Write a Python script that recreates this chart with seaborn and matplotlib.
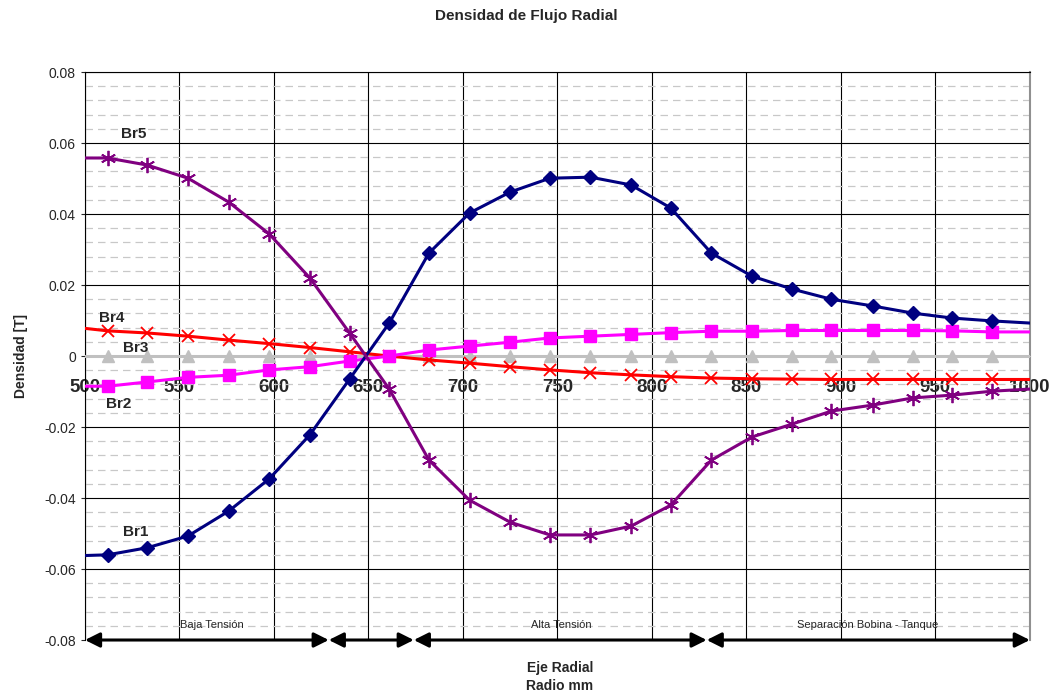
import seaborn as sns
import matplotlib.pyplot as plt
import numpy as np
import pandas as pd

# Radius positions (mm); first and last are the line ends (no marker)
radio = [500, 512, 533, 554.5, 576, 597.5, 619, 640, 661, 682, 703.5, 725, 746,
         767.5, 789, 810, 831.5, 853, 874, 895, 917, 938, 959, 980, 1000]

br1 = [-0.0562, -0.056, -0.054, -0.0507, -0.0437, -0.0346, -0.0222, -0.0065, 0.0093,
       0.029, 0.0403, 0.0462, 0.0501, 0.0504, 0.0482, 0.0417, 0.029, 0.0225, 0.0189,
       0.016, 0.0141, 0.0121, 0.0107, 0.0099, 0.0093]
br2 = [-0.0085, -0.0085, -0.0073, -0.006, -0.0054, -0.0039, -0.003, -0.0014, 0.0,
       0.0017, 0.0028, 0.0039, 0.0051, 0.0056, 0.0061, 0.0066, 0.007, 0.007, 0.0072,
       0.0072, 0.0072, 0.0072, 0.0071, 0.0068, 0.0068]
br3 = [0.0] * 25
br4 = [0.0078, 0.0071, 0.0065, 0.0056, 0.0045, 0.0035, 0.0024, 0.0012, 0.0, -0.0011,
       -0.002, -0.003, -0.0039, -0.0047, -0.0053, -0.0058, -0.0062, -0.0064, -0.0065,
       -0.0066, -0.0066, -0.0066, -0.0066, -0.0066, -0.0066]
br5 = [0.0558, 0.0558, 0.0538, 0.0501, 0.0434, 0.0344, 0.022, 0.0065, -0.0093, -0.0293,
       -0.0406, -0.0468, -0.0504, -0.0504, -0.0479, -0.042, -0.0293, -0.0228, -0.0192,
       -0.0155, -0.0138, -0.0118, -0.011, -0.0099, -0.0093]

# zones along the radial axis
zonas_limites = [500, 629, 674, 829, 1000]
zonas_nombres = ['Baja Tensión', 'Alta Tensión', 'Separación Bobina - Tanque']
zonas_centros = [567, 752, 914]

x_ticks = [500, 550, 600, 650, 700, 750, 800, 850, 900, 950, 1000]
y_ticks = [-0.08, -0.06, -0.04, -0.02, 0, 0.02, 0.04, 0.06, 0.08]
y_labels = ['-0.08', '-0.06', '-0.04', '-0.02', '0', '0.02', '0.04', '0.06', '0.08']

sns.set_style('white')
plt.rcParams['font.family'] = ['Liberation Sans', 'DejaVu Sans']

fig, ax = plt.subplots(figsize=(10.53, 7.0), dpi=100)
fig.subplots_adjust(left=0.0807, right=0.978, top=0.897, bottom=0.0857)

series = [
    ('Br3', br3, '#c0c0c0', '^', 8, 1),
    ('Br4', br4, '#ff0000', 'x', 9, 1.3),
    ('Br2', br2, '#ff00ff', 's', 8, 1),
    ('Br1', br1, '#000080', 'D', 7, 1),
    ('Br5', br5, '#800080', (6, 2, 0), 11, 1.3),
]
inner = list(range(1, len(radio) - 1))
for name, vals, col, mk, ms, mew in series:
    df = pd.DataFrame({'Radio': radio, 'B': vals})
    sns.lineplot(data=df, x='Radio', y='B', ax=ax, color=col, lw=2.2, marker=mk,
                 markersize=ms, markevery=inner, markerfacecolor=col,
                 markeredgecolor=col, markeredgewidth=mew, zorder=3)

# x axis crosses at zero (set before ticks, it resets them)
ax.spines['bottom'].set_position(('data', 0))
ax.spines['bottom'].set_color('#c0c0c0')
ax.spines['left'].set_color('black')
ax.spines['top'].set_color('black')
ax.spines['top'].set_linewidth(0.8)
ax.spines['right'].set_color('#909090')
ax.spines['right'].set_linewidth(1.5)

ax.set_xlim(500, 1000)
ax.set_ylim(-0.08, 0.08)

# grid
ax.set_xticks(x_ticks, [str(t) for t in x_ticks], fontweight='bold', fontsize=13.5)
ax.set_yticks(y_ticks, y_labels, fontsize=10)
ax.set_yticks(np.arange(-0.08, 0.081, 0.004), minor=True)
ax.grid(True, which='major', color='black', lw=0.8)
ax.grid(True, which='minor', axis='y', color='#c8c8c8', lw=0.9, ls=(0, (6, 4)))
ax.set_axisbelow(True)

ax.tick_params(axis='y', which='major', length=3, direction='out', left=True)
ax.tick_params(axis='y', which='minor', length=0)
ax.tick_params(axis='x', length=0, pad=16.5)

ax.set_xlabel('')
ax.set_ylabel('Densidad [T]', fontsize=10, fontweight='bold', labelpad=12)

# series labels
for txt, xx, yy in [('Br5', 526, 0.0625), ('Br4', 514, 0.0107), ('Br3', 527, 0.0023),
                    ('Br2', 518, -0.0135), ('Br1', 527, -0.0496)]:
    ax.text(xx, yy, txt, fontsize=11, fontweight='bold', ha='center', va='center')

# zone arrows and names
for a, b in zip(zonas_limites[:-1], zonas_limites[1:]):
    ax.annotate('', xy=(b, -0.08), xytext=(a, -0.08), annotation_clip=False,
                arrowprops=dict(arrowstyle='<|-|>', color='black', lw=2.2,
                                mutation_scale=22, shrinkA=0, shrinkB=0))
for nombre, cx in zip(zonas_nombres, zonas_centros):
    ax.text(cx, -0.0758, nombre, fontsize=8, ha='center', va='center')

fig.text(0.5, 1 - 16 / 700, 'Densidad de Flujo Radial', ha='center', va='center',
         fontsize=11, fontweight='bold')
fig.text(560 / 1053, 1 - 668 / 700, 'Eje Radial', ha='center', va='center',
         fontsize=10, fontweight='bold')
fig.text(560 / 1053, 1 - 686 / 700, 'Radio mm', ha='center', va='center',
         fontsize=10, fontweight='bold')

fig.savefig('out.png', dpi=100)
